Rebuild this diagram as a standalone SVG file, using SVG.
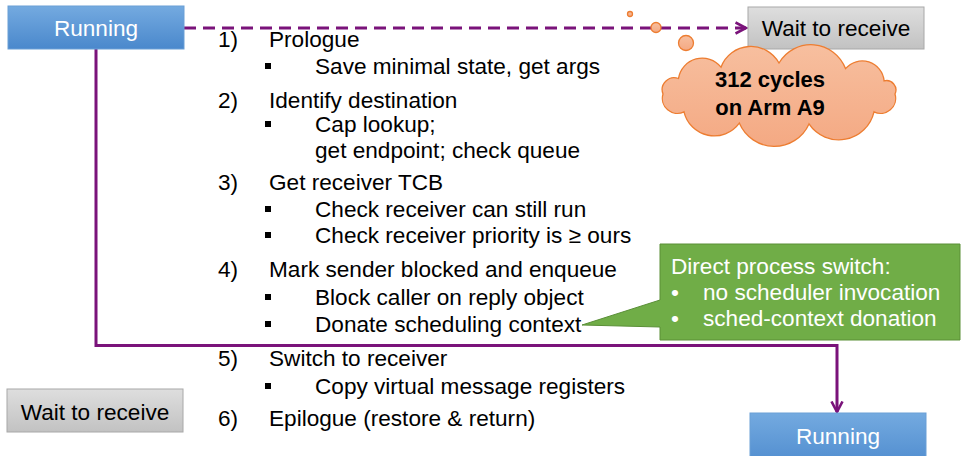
<svg xmlns="http://www.w3.org/2000/svg" width="966" height="456" viewBox="0 0 966 456">
<defs>
<linearGradient id="gBlue" x1="0" y1="0" x2="0" y2="1"><stop offset="0" stop-color="#74aae0"/><stop offset="1" stop-color="#4a88cc"/></linearGradient>
<linearGradient id="gGray" x1="0" y1="0" x2="0" y2="1"><stop offset="0" stop-color="#dedede"/><stop offset="1" stop-color="#c2c2c2"/></linearGradient>
<linearGradient id="gOrange" x1="0" y1="0" x2="0" y2="1"><stop offset="0" stop-color="#f7bf9f"/><stop offset="1" stop-color="#f4a983"/></linearGradient>
<marker id="chev" markerUnits="userSpaceOnUse" viewBox="0 0 14 14" markerWidth="14" markerHeight="14" refX="11.5" refY="7" orient="auto">
<path d="M1,1.5 L11.5,7 L1,12.5" fill="none" stroke="#7a137a" stroke-width="2.6"/>
</marker>
<style>
.t{font-family:"Liberation Sans",Arial,sans-serif;font-size:22.6px;fill:#000}
.w{font-family:"Liberation Sans",Arial,sans-serif;font-size:22.6px;fill:#fff}
.b{font-family:"Liberation Sans",Arial,sans-serif;font-size:22px;font-weight:bold;fill:#000}
.blue{fill:url(#gBlue);stroke:#6a9fd6;stroke-width:1}
.gray{fill:url(#gGray);stroke:#a8a8a8;stroke-width:1}
.orange{fill:url(#gOrange);stroke:#ed7d31;stroke-width:1.3}
.conn{fill:none;stroke:#7a137a;stroke-width:3}
.sq{fill:#000}
</style>
</defs>
<rect width="966" height="456" fill="#fff"/>

<g id="connectors">
<path class="conn" d="M184,28 H746" stroke-dasharray="12 7" marker-end="url(#chev)"/>
<path class="conn" d="M96,49 V345.5 H837 V412" marker-end="url(#chev)"/>
</g>

<g id="running-top">
<rect class="blue" x="8" y="6" width="176" height="43"/>
<text class="w" x="96" y="36" text-anchor="middle">Running</text>
</g>

<g id="wait-top">
<rect class="gray" x="748" y="7" width="176" height="42"/>
<text class="t" x="836" y="36" text-anchor="middle">Wait to receive</text>
</g>

<g id="cloud">
<circle class="orange" cx="630" cy="14" r="2.5"/>
<circle class="orange" cx="656" cy="27.5" r="5"/>
<circle class="orange" cx="686" cy="43" r="7.5"/>
<path class="orange" d="M895,94 A15,15 0 0 1 874,111.8 A36,36 0 0 1 809,123.9 A38,38 0 0 1 739.3,123.1 A31,31 0 0 1 684,111.8 A15,15 0 0 1 663,94 A12,12 0 0 1 678.5,78.5 A24,24 0 0 1 721,67.2 A32,32 0 0 1 779,63 A37,37 0 0 1 845.5,68.6 A22,22 0 0 1 884.1,80.9 A9.4,9.4 0 0 1 895,94 Z"/>
<text class="b" x="770" y="87" text-anchor="middle">312 cycles</text>
<text class="b" x="770" y="115" text-anchor="middle">on Arm A9</text>
</g>

<g id="steps">
<text class="t" x="218" y="47">1)</text>
<text class="t" x="269" y="47">Prologue</text>
<rect class="sq" x="265" y="63" width="6" height="6"/>
<text class="t" x="315" y="74">Save minimal state, get args</text>

<text class="t" x="218" y="108">2)</text>
<text class="t" x="269" y="108">Identify destination</text>
<rect class="sq" x="265" y="121" width="6" height="6"/>
<text class="t" x="315" y="132">Cap lookup;</text>
<text class="t" x="315" y="158">get endpoint; check queue</text>

<text class="t" x="218" y="190">3)</text>
<text class="t" x="269" y="190">Get receiver TCB</text>
<rect class="sq" x="265" y="206" width="6" height="6"/>
<text class="t" x="315" y="217">Check receiver can still run</text>
<rect class="sq" x="265" y="232" width="6" height="6"/>
<text class="t" x="315" y="243">Check receiver priority is ≥ ours</text>

<text class="t" x="218" y="277">4)</text>
<text class="t" x="269" y="277">Mark sender blocked and enqueue</text>
<rect class="sq" x="265" y="294" width="6" height="6"/>
<text class="t" x="315" y="305">Block caller on reply object</text>
<rect class="sq" x="265" y="321" width="6" height="6"/>
<text class="t" x="315" y="332">Donate scheduling context</text>

<text class="t" x="218" y="366">5)</text>
<text class="t" x="269" y="366">Switch to receiver</text>
<rect class="sq" x="265" y="383" width="6" height="6"/>
<text class="t" x="315" y="394">Copy virtual message registers</text>

<text class="t" x="218" y="426">6)</text>
<text class="t" x="269" y="426">Epilogue (restore &amp; return)</text>
</g>

<g id="callout">
<path d="M660,244 H960 V340 H660 V327 L582,325 L660,300 Z" fill="#70ad47" stroke="#5a8f37" stroke-width="1"/>
<text class="w" x="671" y="274">Direct process switch:</text>
<text class="w" x="671" y="300">•</text>
<text class="w" x="703" y="300">no scheduler invocation</text>
<text class="w" x="671" y="326">•</text>
<text class="w" x="703" y="326">sched-context donation</text>
</g>

<g id="wait-bottom">
<rect class="gray" x="7" y="389" width="176" height="43"/>
<text class="t" x="95" y="420" text-anchor="middle">Wait to receive</text>
</g>

<g id="running-bottom">
<rect class="blue" x="750" y="413" width="176" height="60"/>
<text class="w" x="838" y="444" text-anchor="middle">Running</text>
</g>
</svg>
